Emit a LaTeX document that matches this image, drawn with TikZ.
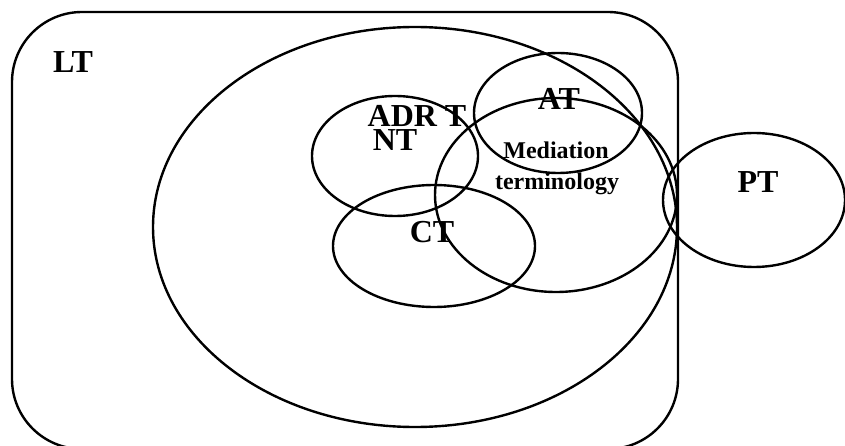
\documentclass[tikz,border=0pt]{standalone}
\usepackage{fontspec}
\setmainfont{Liberation Serif}
\begin{document}
\begin{tikzpicture}[x=1pt,y=-1pt,
  set/.style={draw=black,line width=2.4pt},
  big/.style={font=\bfseries\fontsize{32}{32}\selectfont,inner sep=0pt,anchor=base},
  small/.style={font=\bfseries\fontsize{24}{24}\selectfont,inner sep=0pt,anchor=base}]
\useasboundingbox[fill=white] (0,0) rectangle (845,446);
% language terminology frame (its lower edge runs just below the page)
\draw[set,rounded corners=70pt] (12,12) rectangle (678,449);
% subject-field sets
\draw[set] (415,227) ellipse [x radius=262, y radius=200];
\draw[set] (395,156) ellipse [x radius=83, y radius=60];
\draw[set] (558,113) ellipse [x radius=84, y radius=60];
\draw[set] (556,195) ellipse [x radius=121, y radius=97];
\draw[set] (434,246) ellipse [x radius=101, y radius=61];
\draw[set] (754,200) ellipse [x radius=91, y radius=67];
% labels
\node[big] (lt) at (73,73) {LT};
\node[big] (adrt) at (417,127) {ADR T};
\node[big] (nt) at (395,151) {NT};
\node[big] (at) at (559,110) {AT};
\node[small] (med) at (556,159) {Mediation};
\node[small] (term) at (557,190) {terminology};
\node[big] (ct) at (432,243) {CT};
\node[big] (pt) at (758,193) {PT};
\end{tikzpicture}
\end{document}
